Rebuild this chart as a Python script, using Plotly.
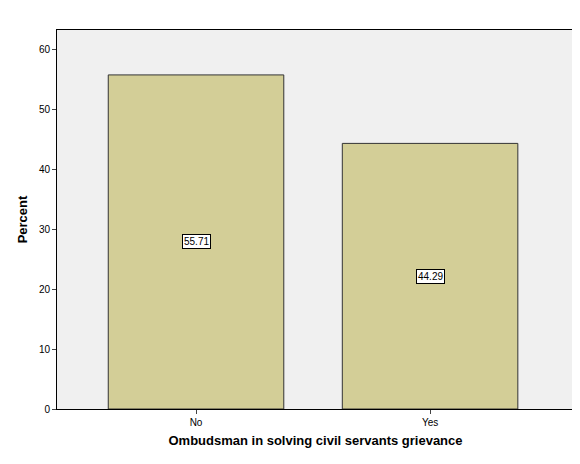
import plotly.graph_objects as go

categories = ["No", "Yes"]
percents = [55.71, 44.29]
positions = [0, 1]

fig = go.Figure()
fig.add_trace(go.Bar(
    x=positions, y=percents, width=0.75,
    marker=dict(color="#D3CE97", line=dict(color="#333333", width=1)),
    showlegend=False, hoverinfo="skip",
))

# value labels in boxes at mid-height of each bar
for xp, v in zip(positions, percents):
    fig.add_annotation(
        x=xp, y=v / 2, text=f"{v:.2f}", showarrow=False,
        font=dict(size=10, color="black"),
        bgcolor="white", bordercolor="black", borderwidth=1, borderpad=1,
    )

fig.update_layout(
    width=572, height=456,
    margin=dict(l=49, r=6, t=22, b=55),
    plot_bgcolor="#F0F0F0", paper_bgcolor="white",
    font=dict(family="Liberation Sans, Arial", size=10, color="black"),
)
fig.update_xaxes(
    range=[-0.594, 1.615], tickvals=positions, ticktext=categories,
    showgrid=False, zeroline=False, showline=True, linecolor="black",
    mirror=True, ticks="outside", ticklen=4,
    title=dict(text="<b>Ombudsman in solving civil servants grievance</b>",
               font=dict(size=13), standoff=8),
)
fig.update_yaxes(
    range=[0, 63.2], tickvals=[0, 10, 20, 30, 40, 50, 60],
    showgrid=False, zeroline=False, showline=True, linecolor="black",
    mirror=True, ticks="outside", ticklen=4,
    title=dict(text="<b>Percent</b>", font=dict(size=13), standoff=8),
)

fig.write_html("out.html")
